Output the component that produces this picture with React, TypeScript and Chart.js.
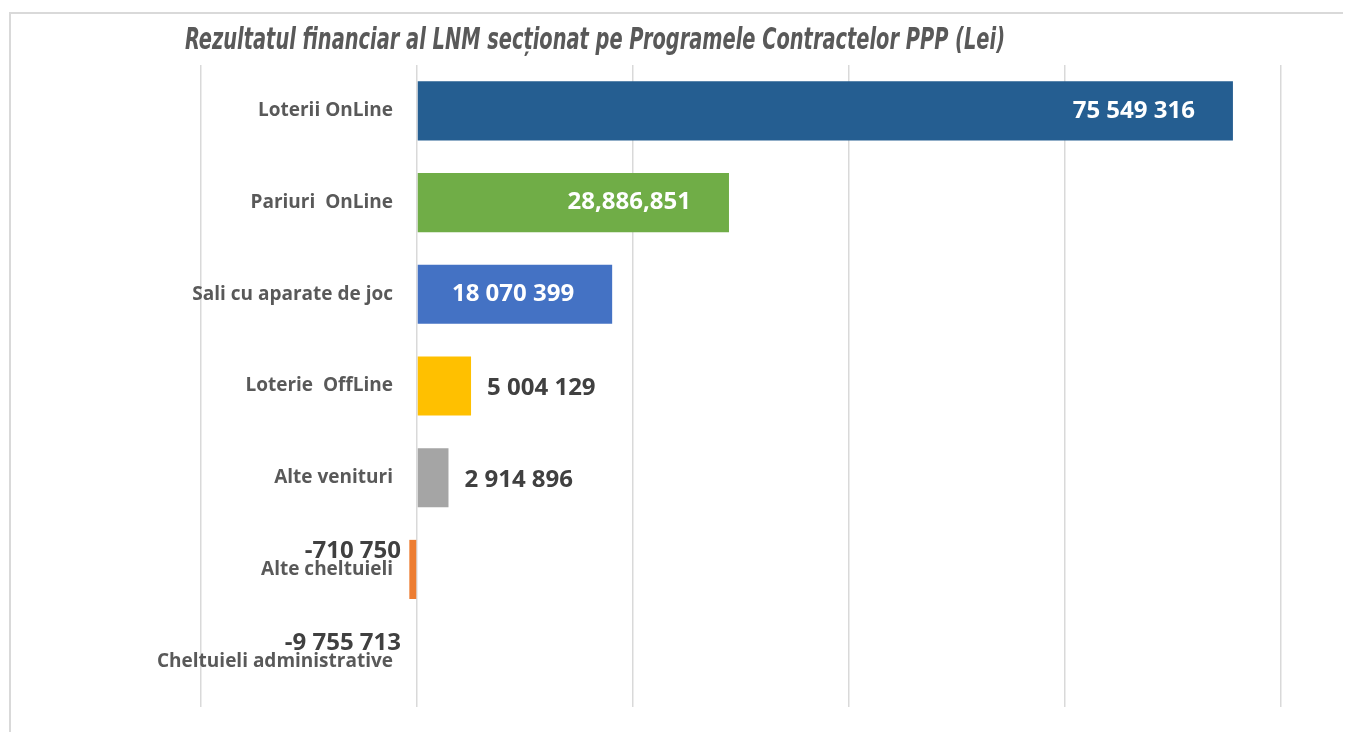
import React, { useEffect, useRef } from "react";
import { Chart, registerables } from "chart.js";

Chart.register(...registerables);

const title = "Rezultatul financiar al LNM secționat pe Programele Contractelor PPP (Lei)";
const categories = [
  "Loterii OnLine",
  "Pariuri  OnLine",
  "Sali cu aparate de joc",
  "Loterie  OffLine",
  "Alte venituri",
  "Alte cheltuieli",
  "Cheltuieli administrative",
];
const values = [75549316, 28886851, 18070399, 5004129, 2914896, -710750, -9755713];
const valueLabels = ["75 549 316", "28,886,851", "18 070 399", "5 004 129", "2 914 896", "-710 750", "-9 755 713"];
const barColors = ["#255E91", "#70AD47", "#4472C4", "#FFC000", "#A5A5A5", "#ED7D31", "rgba(0,0,0,0)"];
const xMin = -20000000;
const xMax = 80000000;
const xStep = 20000000;

const decorPlugin = {
  id: "decor",
  beforeDraw(chart: any) {
    const ctx = chart.ctx;
    ctx.save();
    ctx.strokeStyle = "#d9d9d9";
    ctx.lineWidth = 2;
    ctx.beginPath();
    ctx.moveTo(2, chart.height);
    ctx.lineTo(2, 5);
    ctx.lineTo(chart.width, 5);
    ctx.stroke();
    // title
    ctx.font = "bold italic 31px 'DejaVu Sans Condensed', 'DejaVu Sans'";
    ctx.fillStyle = "#595959";
    ctx.textAlign = "left";
    ctx.textBaseline = "alphabetic";
    const w = ctx.measureText(title).width;
    ctx.translate(177, 41);
    ctx.scale(820 / w, 1);
    ctx.fillText(title, 0, 0);
    ctx.restore();
  },
  afterDatasetsDraw(chart: any) {
    const ctx = chart.ctx;
    const xs = chart.scales.x;
    const ys = chart.scales.y;
    const zero = xs.getPixelForValue(0);
    ctx.save();
    ctx.font = "bold 19px 'Open Sans'";
    ctx.fillStyle = "#595959";
    ctx.textAlign = "right";
    ctx.textBaseline = "middle";
    categories.forEach((c, i) => ctx.fillText(c, zero - 24, ys.getPixelForValue(i)));
    const meta = chart.getDatasetMeta(0);
    ctx.font = "bold 24px 'Open Sans'";
    meta.data.forEach((bar: any, i: number) => {
      const { x, y, base } = bar.getProps(["x", "y", "base"], true);
      const w = Math.abs(x - base);
      if (values[i] >= 0 && w > 150) {
        ctx.fillStyle = "#ffffff";
        ctx.textAlign = "right";
        ctx.fillText(valueLabels[i], x - 38, y);
      } else if (values[i] >= 0) {
        ctx.fillStyle = "#404040";
        ctx.textAlign = "left";
        ctx.fillText(valueLabels[i], x + 16, y + 2);
      } else {
        ctx.fillStyle = "#404040";
        ctx.textAlign = "right";
        ctx.fillText(valueLabels[i], zero - 16, y - 18);
      }
    });
    ctx.restore();
  },
};

export default function App() {
  const ref = useRef<HTMLCanvasElement | null>(null);
  useEffect(() => {
    if (!ref.current) return;
    const chart = new Chart(ref.current, {
      type: "bar",
      data: {
        labels: categories,
        datasets: [
          {
            data: values,
            backgroundColor: barColors,
            borderWidth: 0,
            barPercentage: 0.645,
            categoryPercentage: 1,
          },
        ],
      },
      options: {
        indexAxis: "y",
        animation: false,
        responsive: true,
        maintainAspectRatio: false,
        layout: { padding: { left: 193, right: 62, top: 57, bottom: 25 } },
        plugins: { legend: { display: false }, tooltip: { enabled: false }, title: { display: false } },
        scales: {
          x: {
            min: xMin,
            max: xMax,
            ticks: { display: false, stepSize: xStep },
            grid: { color: "#d9d9d9", lineWidth: 1.5, drawTicks: false },
            border: { display: false },
          },
          y: { display: false },
        },
      },
      plugins: [decorPlugin],
    });
    return () => chart.destroy();
  }, []);
  return (
    <div style={{ width: 1335, height: 724, position: "relative" }}>
      <canvas ref={ref} />
    </div>
  );
}
